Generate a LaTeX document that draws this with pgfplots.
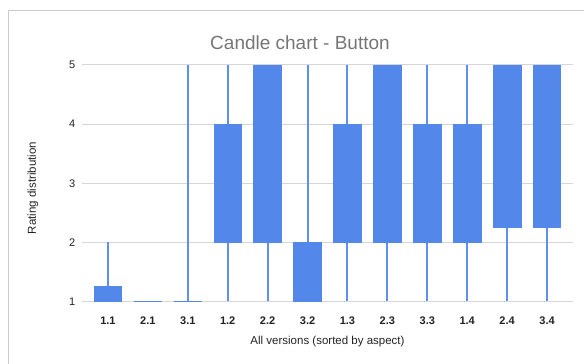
\documentclass[border=0pt]{standalone}
\usepackage{pgfplots}
\pgfplotsset{compat=1.18}
\usepgfplotslibrary{statistics}
\usepackage{fontspec}
\setmainfont{Liberation Sans}
\definecolor{candle}{RGB}{83,135,234}
\definecolor{wick}{RGB}{92,143,240}
\definecolor{gridc}{RGB}{214,214,214}
\definecolor{framec}{RGB}{204,204,204}
\definecolor{titlec}{RGB}{117,117,117}
\definecolor{labelc}{RGB}{34,34,34}
\begin{document}
\begin{tikzpicture}
\useasboundingbox (0pt,0pt) rectangle (584pt,364pt);
\draw[framec, line width=1pt] (8.5pt,0pt) -- (8.5pt,353.5pt) -- (584pt,353.5pt);
\node[anchor=base, font=\fontsize{19}{22}\selectfont, text=titlec] at (300pt,314pt) {Candle chart - Button};
\begin{axis}[
  at={(82pt,62.5pt)}, anchor=south west,
  scale only axis, width=491pt, height=236.5pt,
  xmin=-0.65, xmax=11.65, ymin=1, ymax=5,
  xtick={0,...,11},
  xticklabels={1.1,2.1,3.1,1.2,2.2,3.2,1.3,2.3,3.3,1.4,2.4,3.4},
  ytick={1,2,3,4,5},
  ymajorgrids, grid style={gridc, line width=1pt},
  axis line style={draw=none},
  major tick length=0pt,
  /pgf/number format/assume math mode=true,
  xticklabel style={font=\fontsize{11}{13}\selectfont\bfseries, text=labelc, anchor=center, yshift=-19.5pt},
  yticklabel style={font=\fontsize{11}{13}\selectfont, text=labelc, xshift=-3.3pt},
  xlabel={All versions (sorted by aspect)},
  ylabel={Rating distribution},
  xlabel style={font=\fontsize{11.5}{13}\selectfont, text=labelc, at={(axis description cs:0.5,0)}, anchor=center, yshift=-40.5pt},
  ylabel style={font=\fontsize{11.5}{13}\selectfont, text=labelc, at={(axis description cs:-0.0998,0.48)}, anchor=center},
  boxplot/draw direction=y,
  boxplot/box extend=0.69,
  boxplot/whisker extend=0,
  boxplot/every box/.style={fill=candle, draw=candle, line width=0.8pt},
  boxplot/every whisker/.style={draw=wick, line width=2pt},
  boxplot/every median/.style={draw=none},
]
% draw position, lower whisker (low), box bottom, box top, upper whisker (high)
\addplot[boxplot prepared={draw position=0, lower whisker=1, lower quartile=1, median=1, upper quartile=1.25, upper whisker=2}] coordinates {};
\addplot[boxplot prepared={draw position=1, lower whisker=1, lower quartile=1, median=1, upper quartile=1, upper whisker=1}] coordinates {};
\addplot[boxplot prepared={draw position=2, lower whisker=1, lower quartile=1, median=1, upper quartile=1, upper whisker=5}] coordinates {};
\addplot[boxplot prepared={draw position=3, lower whisker=1, lower quartile=2, median=2, upper quartile=4, upper whisker=5}] coordinates {};
\addplot[boxplot prepared={draw position=4, lower whisker=1, lower quartile=2, median=2, upper quartile=5, upper whisker=5}] coordinates {};
\addplot[boxplot prepared={draw position=5, lower whisker=1, lower quartile=1, median=1, upper quartile=2, upper whisker=5}] coordinates {};
\addplot[boxplot prepared={draw position=6, lower whisker=1, lower quartile=2, median=2, upper quartile=4, upper whisker=5}] coordinates {};
\addplot[boxplot prepared={draw position=7, lower whisker=1, lower quartile=2, median=2, upper quartile=5, upper whisker=5}] coordinates {};
\addplot[boxplot prepared={draw position=8, lower whisker=1, lower quartile=2, median=2, upper quartile=4, upper whisker=5}] coordinates {};
\addplot[boxplot prepared={draw position=9, lower whisker=1, lower quartile=2, median=2, upper quartile=4, upper whisker=5}] coordinates {};
\addplot[boxplot prepared={draw position=10, lower whisker=1, lower quartile=2.25, median=2.25, upper quartile=5, upper whisker=5}] coordinates {};
\addplot[boxplot prepared={draw position=11, lower whisker=1, lower quartile=2.25, median=2.25, upper quartile=5, upper whisker=5}] coordinates {};
\end{axis}
\end{tikzpicture}
\end{document}
